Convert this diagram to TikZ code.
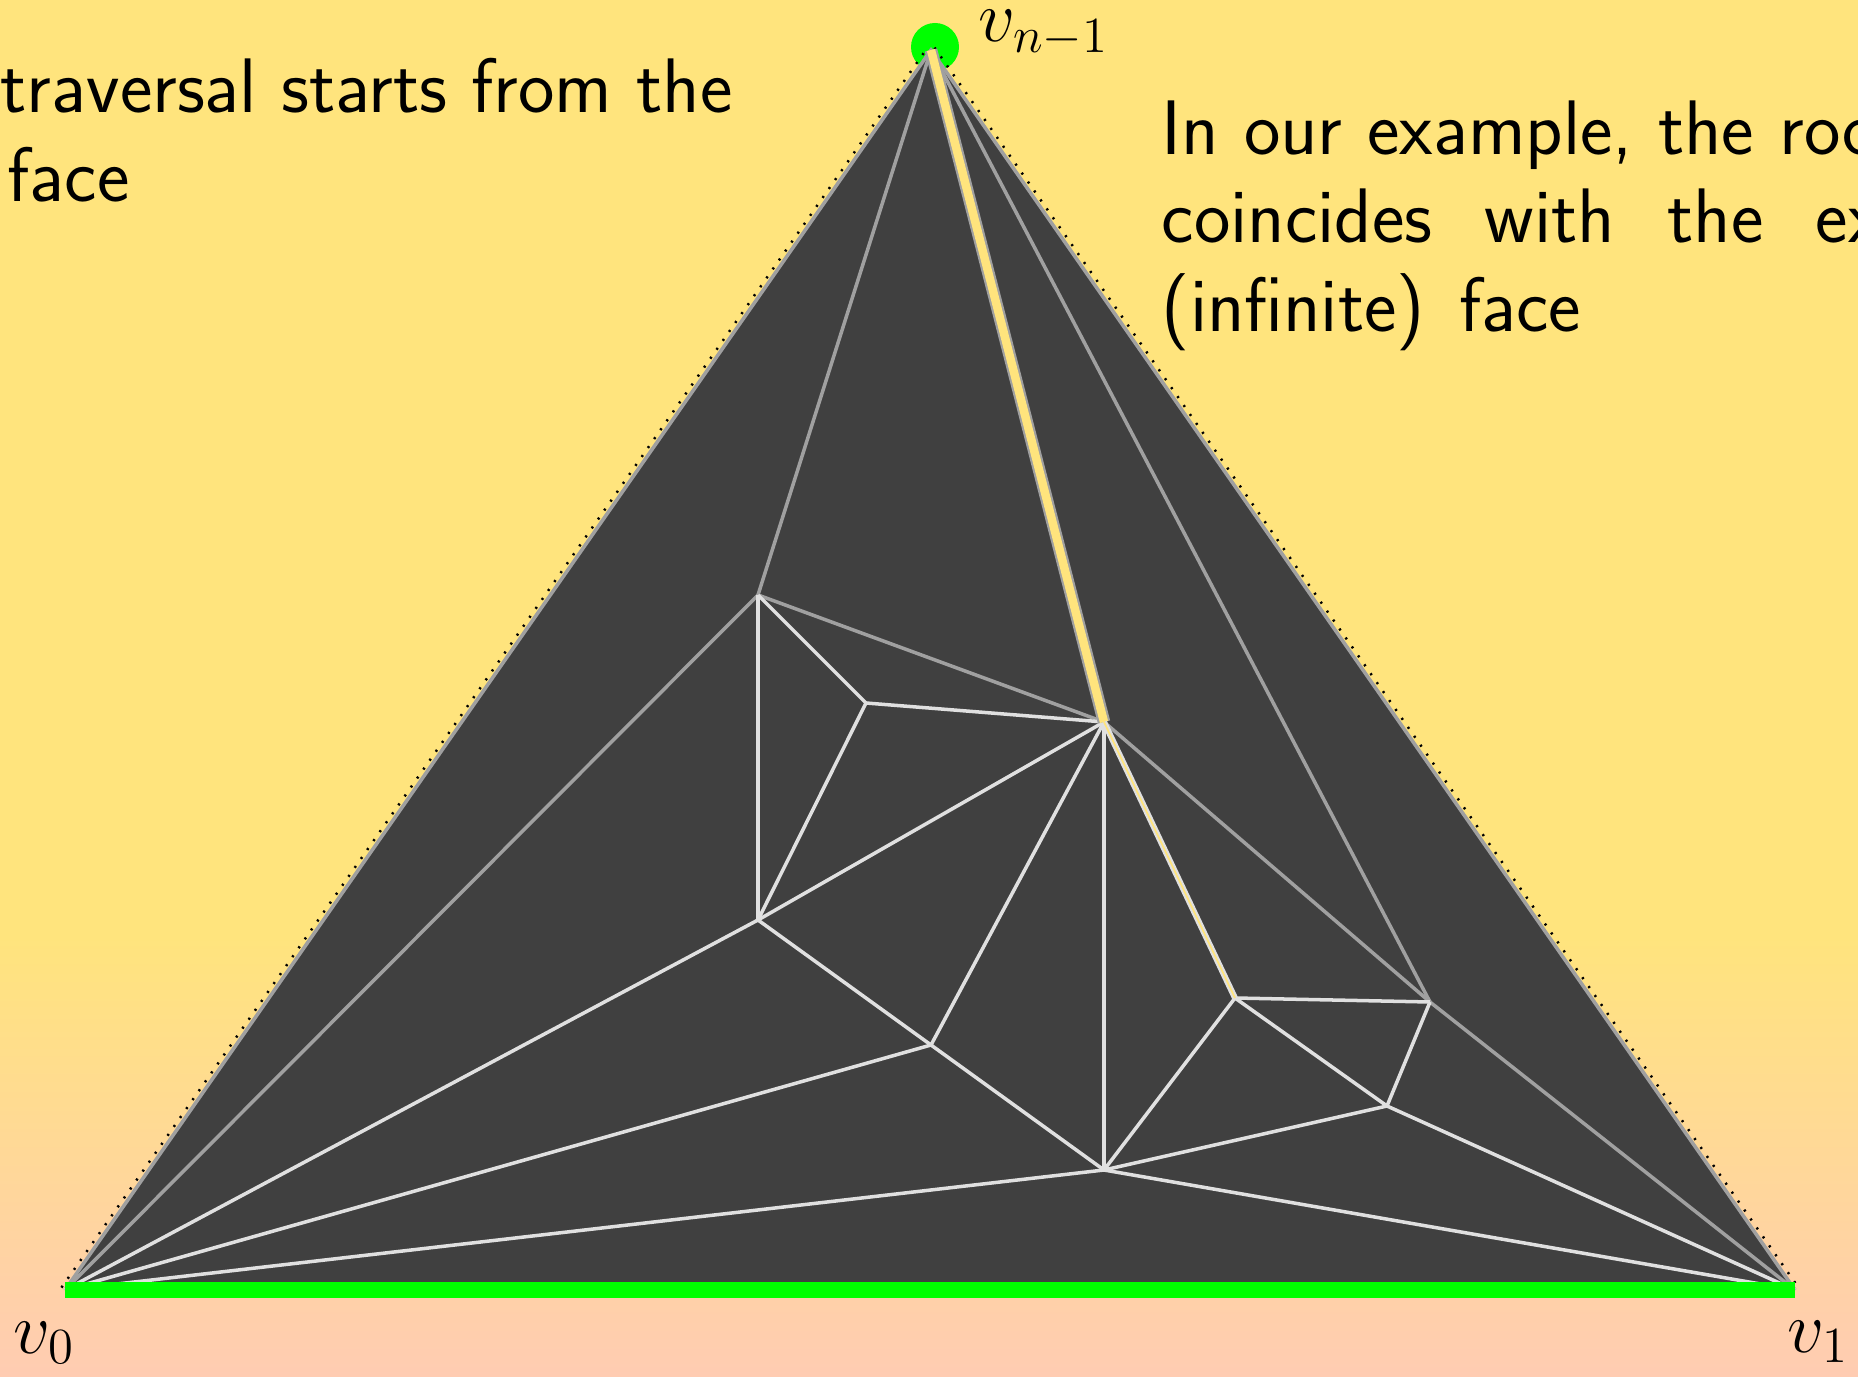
\documentclass[tikz,border=0pt]{standalone}
\definecolor{bgyellow}{RGB}{255,228,125}
\definecolor{bgpeach}{RGB}{255,204,178}
\definecolor{facedark}{RGB}{64,64,64}
\definecolor{edgelight}{RGB}{224,224,224}
\definecolor{edgegrey}{RGB}{160,160,160}
\definecolor{rootgreen}{RGB}{0,255,0}
\tikzset{
    txt/.style={anchor=base west, inner sep=0pt,
                font=\fontsize{22pt}{26pt}\selectfont\sffamily},
    lbl/.style={anchor=base west, inner sep=0pt,
                font=\fontsize{22pt}{26pt}\selectfont},
    lightedge/.style={draw=edgelight, line width=1pt},
    greyedge/.style={draw=edgegrey, line width=1pt},
    outerdots/.style={draw=black, line width=0.7pt,
                      dash pattern=on 0.6pt off 2.5pt},
    rootpath/.style={draw=edgegrey, line width=0.6pt,
                     double=bgyellow, double distance=2.4pt},
    rootpaththin/.style={draw=edgelight, line width=0.6pt,
                         double=bgyellow, double distance=0.5pt},
    rootedge/.style={draw=rootgreen, line width=4.5pt},
    rootdot/.style={circle, fill=rootgreen, inner sep=0pt, minimum size=0.48cm},
}
\begin{document}
\begin{tikzpicture}

    \useasboundingbox (0,0) rectangle (18.58,13.76);
    \fill[bgyellow] (0,0) rectangle (18.58,13.76);
    \shade[top color=bgyellow, bottom color=bgpeach] (0,0) rectangle (18.58,4.4);

    % vertices of the triangulation
    \coordinate (top) at (9.31,13.26);
    \coordinate (v0) at (0.65,0.86);
    \coordinate (v1) at (17.95,0.86);
    \coordinate (a) at (7.58,7.81);
    \coordinate (b) at (8.66,6.73);
    \coordinate (c) at (11.04,6.54);
    \coordinate (d) at (7.58,4.56);
    \coordinate (e) at (9.31,3.31);
    \coordinate (f) at (11.04,2.06);
    \coordinate (g) at (12.35,3.78);
    \coordinate (h) at (14.30,3.74);
    \coordinate (i) at (13.87,2.70);

    \node[rootdot] (rootmark) at (9.35,13.29) {};
    \fill[facedark] (v0) -- (top) -- (v1) -- cycle;

    % outer face boundary
    \draw[outerdots] ([shift={(-0.035,0.024)}]v0) -- ([shift={(-0.035,0.024)}]top);
    \draw[outerdots] ([shift={(0.035,0.024)}]top) -- ([shift={(0.035,0.024)}]v1);
    \draw[greyedge] (v0) -- (top) -- (v1);

    \draw[greyedge] (top) -- (a);
    \draw[greyedge] (top) -- (h);
    \draw[greyedge] (v0) -- (a);
    \draw[greyedge] (a) -- (c);
    \draw[greyedge] (c) -- (h);
    \draw[greyedge] (h) -- (v1);

    \draw[lightedge] (a) -- (b);
    \draw[lightedge] (a) -- (d);
    \draw[lightedge] (b) -- (c);
    \draw[lightedge] (b) -- (d);
    \draw[lightedge] (d) -- (c);
    \draw[lightedge] (d) -- (v0);
    \draw[lightedge] (d) -- (e);
    \draw[lightedge] (e) -- (v0);
    \draw[lightedge] (e) -- (c);
    \draw[lightedge] (e) -- (f);
    \draw[lightedge] (c) -- (f);
    \draw[lightedge] (g) -- (f);
    \draw[lightedge] (g) -- (h);
    \draw[lightedge] (g) -- (i);
    \draw[lightedge] (h) -- (i);
    \draw[lightedge] (i) -- (f);
    \draw[lightedge] (i) -- (v1);
    \draw[lightedge] (f) -- (v0);
    \draw[lightedge] (f) -- (v1);

    % traversal path
    \draw[rootpath] (top) -- (c);
    \draw[rootpaththin] (c) -- (g);
    \draw[rootedge] (v0) -- (v1);

    \node[lbl] (vtoplbl) at (9.78,13.34) {$v_{n-1}$};
    \node[lbl] (v0lbl) at (0.13,0.23) {$v_0$};
    \node[lbl] (v1lbl) at (17.87,0.24) {$v_1$};

    \node[txt] (startA) at (0,12.63) {traversal starts from the};
    \node[txt] (startB) at (0.07,11.74) {face};
    \node[txt] (rootA) at (11.61,12.21) {\makebox[7.17cm][s]{In our example, the roo}};
    \node[txt] (rootB) at (11.61,11.33) {\makebox[7.2cm][s]{coincides with the ex}};
    \node[txt] (rootC) at (11.61,10.44) {(infinite)\hspace{0.1cm} face};

\end{tikzpicture}
\end{document}
